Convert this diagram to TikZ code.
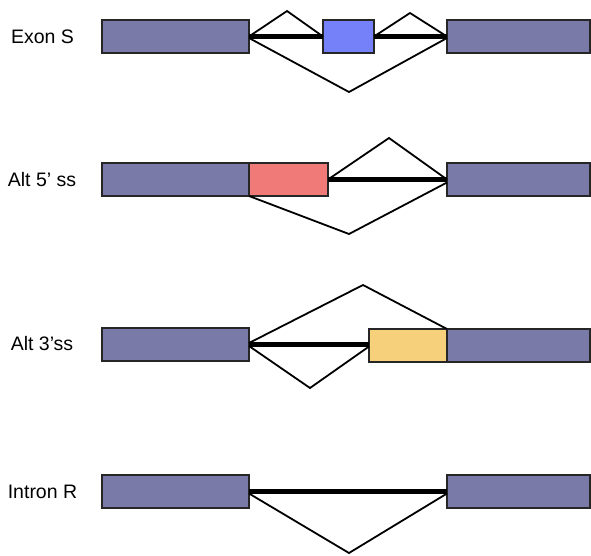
\documentclass[tikz,border=0pt]{standalone}
\usepackage{fontspec}
\setmainfont{Liberation Sans}
\definecolor{exonfill}{HTML}{7A7AA8}
\definecolor{skipfill}{HTML}{7581F8}
\definecolor{fivefill}{HTML}{F07A78}
\definecolor{threefill}{HTML}{F7D07C}
\begin{document}
\begin{tikzpicture}[x=1pt,y=-1pt,
  box/.style={draw=black!85, line width=1.2pt, inner sep=0pt, outer sep=0pt,
              minimum height=33pt, anchor=north west},
  exon/.style={box, fill=exonfill},
  intron/.style={line width=5pt},
  junction/.style={line width=1.8pt, line join=miter},
  lbl/.style={font=\fontsize{19.5}{20}\selectfont, anchor=center}]
\useasboundingbox (0,0) rectangle (591,555);

% ---- Exon S: cassette exon ----
\node[lbl] (t1) at (42.5,37) {Exon S};
\node[exon, minimum width=147pt] (L1) at (102,20) {};
\node[box, fill=skipfill, minimum width=51pt] (S1) at (323,20) {};
\node[exon, minimum width=143pt] (R1) at (447,20) {};
\coordinate (p1a) at (287,11);
\coordinate (p1b) at (410,13);
\coordinate (v1) at (349,92);
\draw[intron] (L1.east) -- (S1.west);
\draw[intron] (S1.east) -- (R1.west);
\draw[junction] (L1.east) -- (p1a) -- (S1.west);
\draw[junction] (S1.east) -- (p1b) -- (R1.west);
\draw[junction] ([yshift=-1.5pt]L1.east) -- (v1) -- ([yshift=-1.5pt]R1.west);

% ---- Alt 5' ss ----
\node[lbl] (t2) at (42,180) {Alt 5’ ss};
\node[exon, minimum width=147pt] (L2) at (102,163) {};
\node[box, fill=fivefill, minimum width=79pt] (S2) at (249,163) {};
\node[exon, minimum width=143pt] (R2) at (447,163) {};
\coordinate (p2) at (389,138);
\coordinate (v2) at (349,234);
\draw[intron] (S2.east) -- (R2.west);
\draw[junction] (S2.east) -- (p2) -- (R2.west);
\draw[junction] (S2.south west) -- (v2) -- ([yshift=-3pt]R2.west);

% ---- Alt 3'ss ----
\node[lbl] (t3) at (42,344) {Alt 3’ss};
\node[exon, minimum width=147pt] (L3) at (102,328) {};
\node[box, fill=threefill, minimum width=78pt] (S3) at (369,329) {};
\node[exon, minimum width=143pt] (R3) at (447,329) {};
\coordinate (p3) at (363,285);
\coordinate (v3) at (310,388);
\draw[intron] (L3.east) -- (L3.east -| S3.west);
\draw[junction] ([yshift=1.5pt]L3.east) -- (p3) -- (R3.north west);
\draw[junction] ([yshift=-1.5pt]L3.east) -- (v3) -- ([yshift=-1pt]S3.west);

% ---- Intron R ----
\node[lbl] (t4) at (42.5,492) {Intron R};
\node[exon, minimum width=147pt] (L4) at (102,475) {};
\node[exon, minimum width=143pt] (R4) at (447,475) {};
\coordinate (v4) at (349,553);
\draw[intron] (L4.east) -- (R4.west);
\draw[junction] ([yshift=-2pt]L4.east) -- (v4) -- ([yshift=-2pt]R4.west);
\end{tikzpicture}
\end{document}
